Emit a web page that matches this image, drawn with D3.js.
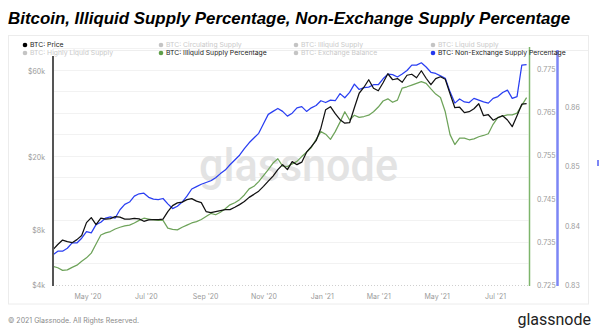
<!DOCTYPE html>
<html><head><meta charset="utf-8">
<script src="https://cdn.jsdelivr.net/npm/d3@7"></script>
<style>
html,body{margin:0;padding:0;background:#fff;}
svg{display:block;font-family:Inter,"Noto Sans",sans-serif;}
</style></head>
<body><svg id="c" width="600" height="330"></svg>
<script>
// ---- data ----
const startDate = "2020-03-26";
const stepDays = 5;
const endDate = "2021-08-05";

const btcPrice = [
 6260,6670,7060,6920,6830,7100,7470,8800,9380,8590,
 9320,9200,9260,9500,9430,9200,9200,9290,9230,8950,
 9110,9140,9140,9200,10120,10910,11290,11410,11770,11920,
 11550,11330,10120,9990,10120,10240,10370,10370,10680,11050,
 11480,12110,12580,13100,13920,14870,15840,17190,18310,17190,
 19020,18310,18900,21440,22980,24790,29030,36680,38090,34860,
 32320,30920,31120,37610,45160,48720,53560,48100,46610,51560,
 57770,53560,54370,51890,56690,57410,54920,60000,54580,50280,
 54370,55620,53890,44880,37610,37840,35310,35750,37130,39550,
 34000,34420,32120,33140,34000,32200,29590,34000,39310,39550];

const illiquidPct = [
 0.7293,0.7290,0.7284,0.7285,0.7291,0.7296,0.7305,0.7313,0.7324,0.7345,
 0.7366,0.7371,0.7374,0.7380,0.7384,0.7387,0.7389,0.7394,0.7400,0.7405,
 0.7403,0.7401,0.7400,0.7400,0.7382,0.7379,0.7378,0.7384,0.7389,0.7394,
 0.7397,0.7402,0.7409,0.7416,0.7413,0.7419,0.7427,0.7436,0.7441,0.7448,
 0.7459,0.7473,0.7479,0.7490,0.7504,0.7518,0.7533,0.7543,0.7526,0.7525,
 0.7531,0.7537,0.7548,0.7558,0.7569,0.7588,0.7606,0.7600,0.7588,0.7606,
 0.7628,0.7652,0.7633,0.7644,0.7639,0.7641,0.7644,0.7652,0.7663,0.7677,
 0.7682,0.7674,0.7679,0.7707,0.7710,0.7714,0.7718,0.7722,0.7718,0.7705,
 0.7693,0.7685,0.7652,0.7599,0.7576,0.7591,0.7591,0.7587,0.7589,0.7594,
 0.7597,0.7601,0.7623,0.7639,0.7642,0.7645,0.7645,0.7649,0.7667,0.7685];

const nonExchangePct = [
 0.8351,0.8357,0.8357,0.8362,0.8371,0.8371,0.8379,0.8390,0.8388,0.8402,
 0.8406,0.8413,0.8415,0.8413,0.8427,0.8436,0.8440,0.8450,0.8454,0.8455,
 0.8448,0.8445,0.8444,0.8446,0.8437,0.8429,0.8433,0.8440,0.8450,0.8462,
 0.8466,0.8470,0.8473,0.8476,0.8481,0.8488,0.8494,0.8503,0.8511,0.8519,
 0.8530,0.8540,0.8548,0.8556,0.8572,0.8588,0.8593,0.8598,0.8593,0.8585,
 0.8590,0.8599,0.8601,0.8593,0.8599,0.8603,0.8611,0.8608,0.8612,0.8611,
 0.8623,0.8616,0.8625,0.8639,0.8630,0.8633,0.8634,0.8638,0.8638,0.8648,
 0.8656,0.8655,0.8651,0.8656,0.8662,0.8671,0.8671,0.8675,0.8668,0.8659,
 0.8657,0.8653,0.8649,0.8626,0.8607,0.8614,0.8609,0.8608,0.8615,0.8612,
 0.8609,0.8607,0.8615,0.8618,0.8625,0.8629,0.8615,0.8618,0.8671,0.8672];

const xTickDates = ["2020-05-01","2020-07-01","2020-09-01","2020-11-01","2021-01-01","2021-03-01","2021-05-01","2021-07-01"];
const xTickLabels = ["May '20","Jul '20","Sep '20","Nov '20","Jan '21","Mar '21","May '21","Jul '21"];
const priceTicks = [4000,8000,20000,60000];
const priceTickLabels = ["$4k","$8k","$20k","$60k"];
const illiquidTicks = [0.725,0.735,0.745,0.755,0.765,0.775];
const illiquidGrid = [0.73,0.735,0.74,0.745,0.75,0.755,0.76,0.765,0.77,0.775,0.78];
const nonExTicks = [0.83,0.84,0.85,0.86];

const legendItems = [
 {label:"BTC: Price", color:"#000", on:true, col:0,row:0},
 {label:"BTC: Highly Liquid Supply", color:"#bbb", on:false, col:0,row:1},
 {label:"BTC: Circulating Supply", color:"#bbb", on:false, col:1,row:0},
 {label:"BTC: Illiquid Supply Percentage", color:"#5e9e48", on:true, col:1,row:1},
 {label:"BTC: Illiquid Supply", color:"#bbb", on:false, col:2,row:0},
 {label:"BTC: Exchange Balance", color:"#bbb", on:false, col:2,row:1},
 {label:"BTC: Liquid Supply", color:"#bbb", on:false, col:3,row:0},
 {label:"BTC: Non-Exchange Supply Percentage", color:"#2337ee", on:true, col:3,row:1}
];

// ---- layout ----
const svg = d3.select("#c");
const L = 53, R = 528.5, T = 48, B = 285;
const parse = d3.utcParse("%Y-%m-%d");
const start = parse(startDate);
const dates = btcPrice.map((_, i) => d3.utcDay.offset(start, i * stepDays));

const x = d3.scaleUtc().domain([start, parse(endDate)]).range([L, R]);
const yP = d3.scaleLog().domain([4000, 80000]).range([B, T]);
const yG = d3.scaleLinear().domain([0.725, 0.78]).range([B, T]);
const yB = d3.scaleLinear().domain([0.83, 0.87]).range([B, T]);

// title
svg.append("text").attr("x", 8).attr("y", 24)
  .attr("font-family", "'Liberation Sans',Arial,sans-serif")
  .attr("font-weight", "bold").attr("font-style", "italic")
  .attr("font-size", 16.9).attr("fill", "#000")
  .text("Bitcoin, Illiquid Supply Percentage, Non-Exchange Supply Percentage");

// panel
svg.append("rect").attr("x", 8.5).attr("y", 35.5).attr("width", 580).attr("height", 268.5)
  .attr("fill", "#fff").attr("stroke", "#ececec");

// gridlines
svg.append("g").selectAll("line").data(illiquidGrid).join("line")
  .attr("x1", L).attr("x2", R).attr("y1", d => Math.round(yG(d)) + 0.5).attr("y2", d => Math.round(yG(d)) + 0.5)
  .attr("stroke", "#f2f2f2").attr("stroke-width", 1);
svg.append("line").attr("x1", 60).attr("x2", 588).attr("y1", 50.5).attr("y2", 50.5).attr("stroke", "#eeeeee");

// watermark
svg.append("text").attr("x", 199).attr("y", 181)
  .attr("font-family", "Roboto,Inter,sans-serif").attr("font-weight", 500)
  .attr("font-size", 46).attr("fill", "#e3e3e3")
  .attr("textLength", 199).attr("lengthAdjust", "spacingAndGlyphs")
  .text("glassnode");

// baseline dotted
svg.append("line").attr("x1", L).attr("x2", R).attr("y1", B + 0.5).attr("y2", B + 0.5)
  .attr("stroke", "#cfcfcf").attr("stroke-dasharray", "1,2");

// clip
svg.append("clipPath").attr("id", "clip").append("rect")
  .attr("x", L).attr("y", T).attr("width", R - L + 1).attr("height", B - T);

const lines = svg.append("g").attr("clip-path", "url(#clip)");
const mk = (arr, ys) => d3.line().x((d, i) => x(dates[i])).y(d => ys(d))(arr);
lines.append("path").attr("d", mk(illiquidPct, yG)).attr("fill", "none")
  .attr("stroke", "#6ea35a").attr("stroke-width", 1.25).attr("stroke-linejoin", "round");
lines.append("path").attr("d", mk(nonExchangePct, yB)).attr("fill", "none")
  .attr("stroke", "#2a3ff2").attr("stroke-width", 1.25).attr("stroke-linejoin", "round");
lines.append("path").attr("d", mk(btcPrice, yP)).attr("fill", "none")
  .attr("stroke", "#111").attr("stroke-width", 1.25).attr("stroke-linejoin", "round");

// axis lines
svg.append("line").attr("x1", L).attr("x2", L).attr("y1", 56).attr("y2", B + 1)
  .attr("stroke", "#555").attr("stroke-width", 2);
svg.append("line").attr("x1", 529.5).attr("x2", 529.5).attr("y1", 47).attr("y2", B + 1)
  .attr("stroke", "#7db56b").attr("stroke-width", 1.5);
svg.append("line").attr("x1", 557.5).attr("x2", 557.5).attr("y1", 50).attr("y2", B + 1)
  .attr("stroke", "#7c86f5").attr("stroke-width", 2.5);

// axes
function styleAxis(g) {
  g.select(".domain").remove();
  g.selectAll(".tick line").remove();
  g.selectAll("text").attr("fill", "#9a9a9a").attr("font-size", 7).attr("font-family", "Inter,sans-serif");
}
svg.append("g").attr("transform", `translate(0,${B})`)
  .call(d3.axisBottom(x).tickValues(xTickDates.map(parse))
    .tickFormat((d, i) => xTickLabels[i]).tickSize(0).tickPadding(9))
  .call(styleAxis);
svg.append("g").attr("transform", `translate(${L},0)`)
  .call(d3.axisLeft(yP).tickValues(priceTicks)
    .tickFormat((d, i) => priceTickLabels[i]).tickSize(0).tickPadding(8))
  .call(styleAxis);
svg.append("g").attr("transform", `translate(529,0)`)
  .call(d3.axisRight(yG).tickValues(illiquidTicks).tickFormat(d3.format(".3f")).tickSize(0).tickPadding(8))
  .call(styleAxis);
svg.append("g").attr("transform", `translate(557,0)`)
  .call(d3.axisRight(yB).tickValues(nonExTicks).tickFormat(d3.format(".2f")).tickSize(0).tickPadding(8))
  .call(styleAxis);

// legend
const colX = [25, 161, 296, 433];
const rowY = [45, 53];
const lg = svg.append("g").selectAll("g").data(legendItems).join("g")
  .attr("transform", d => `translate(${colX[d.col]},${rowY[d.row]})`);
lg.append("circle").attr("r", 2.3).attr("fill", d => d.on ? d.color : "#c4c4c4");
lg.append("text").attr("x", 5).attr("y", 2.4).attr("font-size", 6.8)
  .attr("fill", d => d.on ? "#222" : "#c9c9c9").text(d => d.label);

// small edge mark
svg.append("rect").attr("x", 597).attr("y", 160).attr("width", 2).attr("height", 6).attr("fill", "#7c86f5");

// footer
svg.append("text").attr("x", 8).attr("y", 323).attr("font-size", 7).attr("fill", "#8a8a8a")
  .text("© 2021 Glassnode. All Rights Reserved.");
svg.append("text").attr("x", 591).attr("y", 325).attr("text-anchor", "end")
  .attr("font-family", "Roboto,Inter,sans-serif").attr("font-size", 16).attr("fill", "#222")
  .text("glassnode");
</script></body></html>
